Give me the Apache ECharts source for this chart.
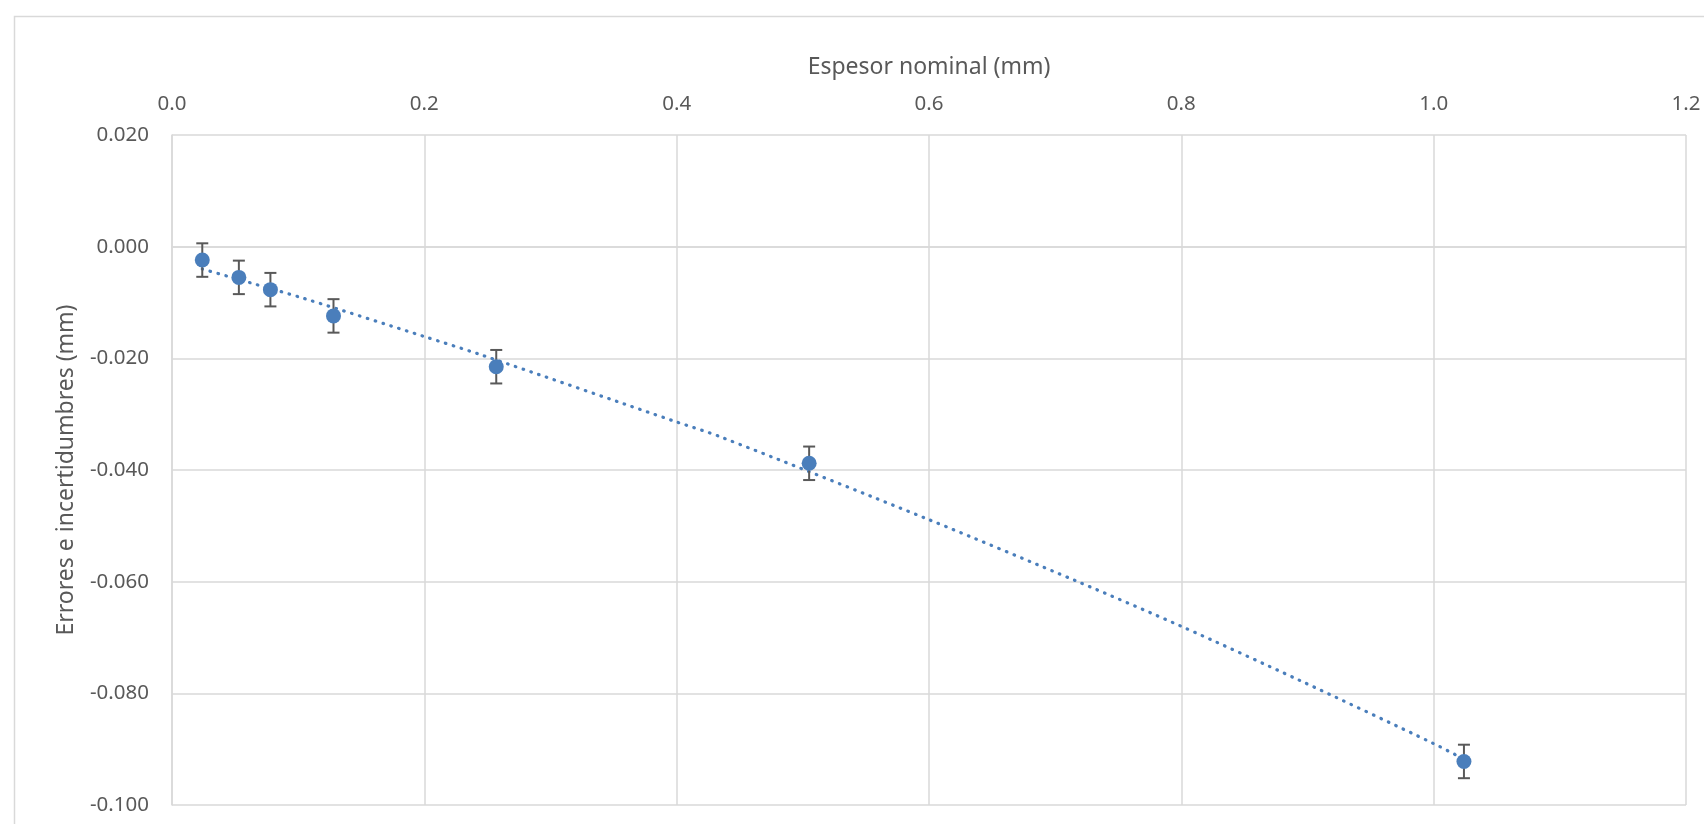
<!DOCTYPE html>
<html>
<head>
<meta charset="utf-8">
<script src="https://cdn.jsdelivr.net/npm/echarts@6/dist/echarts.min.js"></script>
<style>
html,body{margin:0;padding:0;background:#fff;}
#chart{width:1704px;height:824px;}
</style>
</head>
<body>
<div id="chart"></div>
<script>
// Data
const xValues = [0.024, 0.053, 0.078, 0.128, 0.257, 0.505, 1.024];
const yValues = [-0.0024, -0.0055, -0.0077, -0.0124, -0.0215, -0.0388, -0.0922];
const yErrors = [0.003, 0.003, 0.003, 0.003, 0.003, 0.003, 0.003];
// Trendline points
const trendX = [0.024, 0.061, 0.105, 0.2, 0.244, 0.4, 0.434, 0.6, 0.718, 0.8, 0.894, 1.0, 1.024];
const trendY = [-0.0040, -0.0064, -0.0093, -0.0161, -0.0193, -0.0314, -0.0340, -0.0489, -0.0600, -0.0680, -0.0777, -0.0890, -0.0918];
const xTitle = 'Espesor nominal (mm)';
const yTitle = 'Errores e incertidumbres (mm)';

const points = xValues.map((x, i) => [x, yValues[i]]);
const errData = xValues.map((x, i) => [x, yValues[i] - yErrors[i], yValues[i] + yErrors[i]]);
const trendData = trendX.map((x, i) => [x, trendY[i]]);

const FONT = 'Noto Sans';
const TXT = '#595959';
const GRID = '#d9d9d9';
const BLUE = '#4a7ebb';

const chart = echarts.init(document.getElementById('chart'), null, {renderer: 'canvas'});
chart.setOption({
  backgroundColor: '#fff',
  animation: false,
  graphic: [{
    type: 'rect', z: -10, silent: true,
    shape: {x: 14.5, y: 16.5, width: 1760, height: 900},
    style: {fill: 'none', stroke: GRID, lineWidth: 1.5}
  }],
  grid: {left: 172, top: 135, width: 1514, height: 670, containLabel: false},
  xAxis: {
    type: 'value', position: 'top', min: 0, max: 1.2, interval: 0.2,
    name: xTitle, nameLocation: 'middle', nameGap: 56,
    nameTextStyle: {fontFamily: FONT, fontSize: 23, color: TXT},
    axisLine: {show: true, lineStyle: {color: GRID, width: 1.5}},
    axisTick: {show: false},
    axisLabel: {fontFamily: FONT, fontSize: 20.5, color: TXT, margin: 20,
      formatter: v => v.toFixed(1)},
    splitLine: {show: true, lineStyle: {color: GRID, width: 1.5}}
  },
  yAxis: {
    type: 'value', min: -0.1, max: 0.02, interval: 0.02,
    name: yTitle, nameLocation: 'middle', nameGap: 94,
    nameTextStyle: {fontFamily: FONT, fontSize: 23, color: TXT},
    axisLine: {show: true, lineStyle: {color: GRID, width: 1.5}},
    axisTick: {show: false},
    axisLabel: {fontFamily: FONT, fontSize: 20.5, color: TXT, margin: 23,
      formatter: v => v.toFixed(3)},
    splitLine: {show: true, lineStyle: {color: GRID, width: 1.5}}
  },
  series: [
    {
      type: 'line', data: trendData, smooth: 0.3, showSymbol: false, z: 2,
      lineStyle: {color: BLUE, width: 3.2, type: [0.6, 7.6], cap: 'round'}
    },
    {
      type: 'custom', z: 3,
      data: errData,
      renderItem: function (params, api) {
        const x = api.value(0);
        const lo = api.coord([x, api.value(1)]);
        const hi = api.coord([x, api.value(2)]);
        const hw = 6;
        const st = {stroke: '#595959', lineWidth: 2};
        return {
          type: 'group',
          children: [
            {type: 'line', shape: {x1: lo[0], y1: lo[1], x2: hi[0], y2: hi[1]}, style: st},
            {type: 'line', shape: {x1: lo[0] - hw, y1: lo[1], x2: lo[0] + hw, y2: lo[1]}, style: st},
            {type: 'line', shape: {x1: hi[0] - hw, y1: hi[1], x2: hi[0] + hw, y2: hi[1]}, style: st}
          ]
        };
      }
    },
    {
      type: 'scatter', data: points, symbol: 'circle', symbolSize: 15, z: 4,
      itemStyle: {color: BLUE, opacity: 1}
    }
  ]
});
</script>
</body>
</html>
